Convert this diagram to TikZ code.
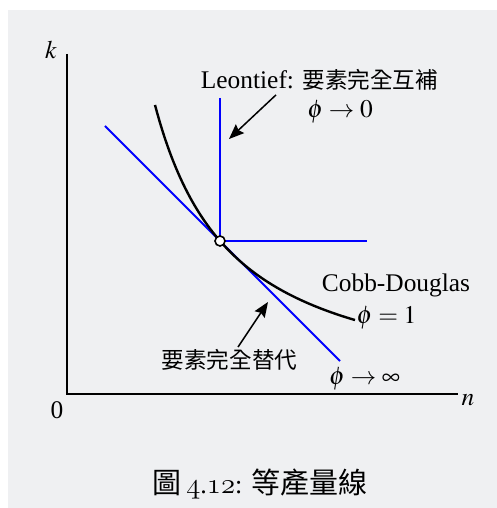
\documentclass[tikz,border=0pt]{standalone}
\usepackage{mathptmx}
\usepackage{fontspec}
\setmainfont{Liberation Serif}
\newfontfamily\cjk{Noto Sans CJK TC}
\usetikzlibrary{arrows.meta}
\usetikzlibrary{positioning}

\definecolor{bggray}{RGB}{239,240,242}
\newcommand\zh[1]{{\fontsize{11.3}{13}\selectfont\cjk #1}}
\newcommand\osn[1]{{\usefont{OML}{cmm}{m}{it}\fontsize{15}{17}\selectfont#1}}

\begin{document}
\begin{tikzpicture}[x=0.5pt,y=0.5pt,
  axis/.style={line width=1.2pt},
  isoq/.style={blue,line width=1pt},
  cobb/.style={line width=1.2pt},
  lbl/.style={font=\fontsize{12.7}{15}\selectfont,inner sep=0pt},
  pointer/.style={line width=0.75pt,-{Stealth[length=7.5pt,width=6pt,inset=1pt]}}]
\useasboundingbox (0,0) rectangle (497,508);
\fill[bggray] (8,0) rectangle (497,498);

% axes
\draw[axis] (67,454) -- (67,114) -- (458,114);
\node[lbl] (ylab) at (51,458) {$k$};
\node[lbl] (xlab) at (468,108) {$n$};
\node[lbl] (orig) at (57,98) {0};

% isoquants
\coordinate (P) at (220,267);
\draw[isoq] (105,382) -- (340,147);
\draw[cobb] plot[domain=88:288,samples=80] ({67+\x},{114+153*(\x/153)^(-1.15)});
\draw[isoq] (220,410) -- (P) -- (367,267);
\node[circle,draw,fill=white,inner sep=0pt,minimum size=5pt,line width=0.8pt] (kink) at (P) {};

% labels
\node[lbl] (leon) at (319.5,428) {Leontief: \zh{要素完全互補}};
\node[lbl] (phizero) at (340,396) {$\phi\rightarrow 0$};
\node[lbl] (cobbl) at (396,223) {Cobb-Douglas};
\node[lbl] (phione) at (386.5,190) {$\phi=1$};
\node[lbl] (subst) at (229.5,148) {\zh{要素完全替代}};
\node[lbl] (phiinf) at (364.5,129) {$\phi\rightarrow\infty$};

\coordinate (leontip) at (229,369);
\coordinate (substtip) at (268,206);
\draw[pointer] ([xshift=-21.75pt,yshift=-2pt]leon.south) -- (leontip);
\draw[pointer] ([xshift=4.25pt,yshift=1pt]subst.north) -- (substtip);

% caption
\node[font=\fontsize{13}{16}\selectfont,inner sep=0pt] (cap) at (260,24)
  {{\fontsize{14.5}{17}\selectfont\cjk 圖}\,\osn{4}.\osn{12}: {\fontsize{14.5}{17}\selectfont\cjk 等產量線}};
\end{tikzpicture}
\end{document}
